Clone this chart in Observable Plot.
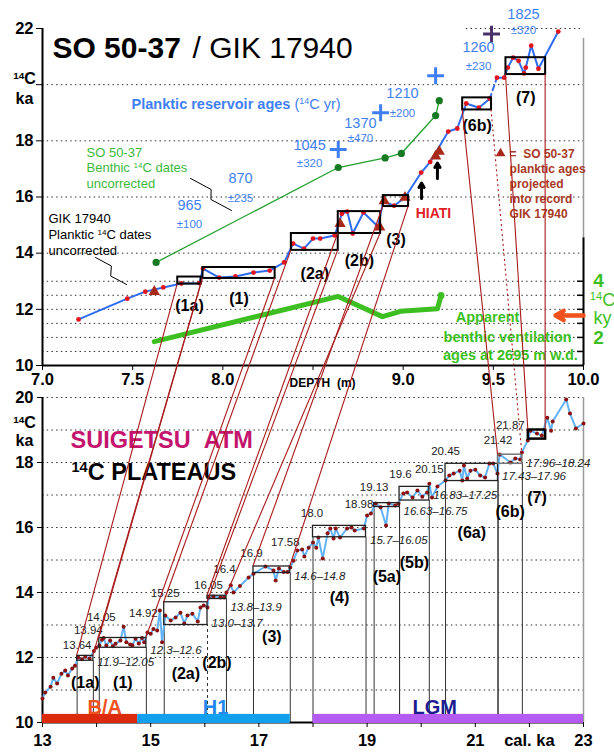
<!DOCTYPE html>
<html>
<head>
<meta charset="utf-8">
<script src="https://cdn.jsdelivr.net/npm/d3@7"></script>
<script src="https://cdn.jsdelivr.net/npm/@observablehq/plot@0.6"></script>
<style>
  body { margin: 0; background: #fff; }
  #fig { position: relative; width: 614px; height: 754px; overflow: hidden; }
  #fig svg { position: absolute; left: 0; }
</style>
</head>
<body>
<div id="fig"></div>
<script>
// ---------------- Core SO 50-37 / GIK 17940 (depth in m, 14C ka) ----------------
// GIK 17940 planktic 14C dates, uncorrected
const plankticDepth = [7.20, 7.47, 7.57, 7.67, 7.77, 7.87, 7.89, 7.98, 8.07, 8.17, 8.26, 8.34, 8.39, 8.45, 8.50, 8.54, 8.62, 8.66, 8.69, 8.72, 8.78, 8.86, 8.89, 8.95, 9.01, 9.10, 9.15, 9.25, 9.30, 9.35, 9.42, 9.48, 9.52, 9.56, 9.58, 9.61, 9.64, 9.67, 9.68, 9.71, 9.75, 9.86];
const plankticAge   = [11.64, 12.38, 12.63, 12.78, 12.92, 12.93, 13.45, 13.13, 13.17, 13.31, 13.38, 13.67, 14.34, 14.16, 14.52, 14.52, 14.63, 15.40, 15.48, 14.70, 15.45, 14.95, 15.84, 15.69, 15.98, 16.87, 17.25, 18.33, 18.44, 19.33, 19.18, 19.50, 20.25, 20.25, 20.61, 20.96, 20.85, 20.40, 20.61, 21.39, 20.57, 21.89];
// SO 50-37 planktic ages projected into record GIK 17940
const projectedDepth = [7.62, 8.65, 8.87, 8.895, 9.01, 9.18, 9.20];
const projectedAge   = [12.63, 15.05, 14.92, 15.86, 15.98, 17.45, 17.62];
// SO 50-37 benthic 14C dates, uncorrected
const benthicDepth = [7.63, 8.64, 8.90, 8.99, 9.18, 9.20];
const benthicAge   = [13.67, 17.05, 17.39, 17.55, 18.90, 19.43];
// Apparent benthic ventilation ages (14C ky, right-hand axis)
const ventDepth = [7.62, 8.64, 8.885, 8.985, 9.19, 9.21];
const ventAge   = [1.85, 3.46, 2.74, 2.93, 3.02, 3.49];
// Planktic reservoir ages (14C yr) with their uncertainties
const reservoirAge = [965, 870, 1045, 1370, 1210, 1260, 1825];
const reservoirErr = [100, 235, 320, 470, 200, 230, 320];
// Reservoir-age sample markers
const markerDepth = [8.64, 8.875, 9.18, 9.49];
const markerAge   = [17.69, 19.00, 20.32, 21.80];
// Plateau boxes in the core (depth range, 14C range)
const coreBoxId    = ["1a", "1", "2a", "2b", "3", "6b", "7"];
const coreDepthTop = [7.75, 7.89, 8.38, 8.64, 8.89, 9.33, 9.57];
const coreDepthEnd = [7.88, 8.29, 8.64, 8.875, 9.03, 9.49, 9.79];
const coreAgeLow   = [12.90, 13.10, 14.10, 14.70, 15.66, 19.10, 20.36];
const coreAgeHigh  = [13.15, 13.49, 14.70, 15.48, 16.05, 19.53, 20.96];

// ---------------- Lake Suigetsu atmospheric 14C (cal ka, 14C ka) ----------------
const suigetsuCal = [13.00, 13.05, 13.15, 13.20, 13.27, 13.35, 13.42, 13.47, 13.55, 13.60, 13.66, 13.73, 13.79, 13.87, 13.95, 13.99, 14.05, 14.10, 14.13, 14.18, 14.25, 14.30, 14.35, 14.44, 14.50, 14.55, 14.62, 14.66, 14.72, 14.78, 14.84, 14.88, 14.94, 15.00, 15.05, 15.12, 15.17, 15.21, 15.27, 15.37, 15.46, 15.55, 15.62, 15.68, 15.77, 15.87, 15.92, 15.98, 16.05, 16.07, 16.16, 16.29, 16.36, 16.40, 16.48, 16.53, 16.65, 16.81, 16.90, 17.12, 17.27, 17.31, 17.37, 17.46, 17.53, 17.58, 17.64, 17.71, 17.80, 17.84, 17.92, 18.00, 18.06, 18.10, 18.18, 18.27, 18.32, 18.38, 18.42, 18.50, 18.63, 18.71, 18.77, 18.94, 19.00, 19.07, 19.16, 19.25, 19.35, 19.40, 19.52, 19.58, 19.67, 19.74, 19.84, 19.93, 20.02, 20.11, 20.15, 20.20, 20.30, 20.45, 20.52, 20.60, 20.71, 20.76, 20.79, 20.85, 20.91, 21.00, 21.09, 21.18, 21.26, 21.33, 21.41, 21.45, 21.65, 21.74, 21.83, 21.86, 21.97, 22.02, 22.14, 22.23, 22.33, 22.40, 22.43, 22.68, 22.75, 22.86, 23.00];
const suigetsuC14 = [10.74, 10.92, 11.10, 11.38, 11.20, 11.50, 11.60, 11.45, 11.66, 11.75, 12.00, 11.95, 12.02, 11.97, 12.20, 12.30, 12.37, 12.55, 12.60, 12.37, 12.52, 12.35, 12.42, 12.52, 12.95, 12.47, 12.40, 12.38, 12.58, 12.43, 12.60, 12.47, 12.77, 12.73, 12.88, 12.83, 13.45, 12.47, 13.29, 13.14, 13.23, 13.38, 13.05, 13.29, 13.35, 13.11, 13.54, 13.60, 13.54, 13.85, 13.88, 13.85, 13.85, 14.00, 14.22, 14.00, 14.20, 14.46, 14.58, 14.80, 14.68, 14.37, 14.74, 14.63, 14.63, 14.77, 14.98, 15.29, 15.32, 15.11, 15.38, 15.54, 15.38, 15.69, 15.05, 15.82, 15.97, 15.66, 15.97, 15.69, 15.97, 16.00, 15.91, 15.97, 16.37, 16.43, 16.74, 16.62, 16.06, 16.74, 16.68, 16.74, 17.05, 17.08, 16.92, 17.14, 16.95, 17.08, 17.35, 16.92, 17.26, 17.45, 17.60, 17.66, 17.75, 17.45, 17.91, 17.51, 17.75, 17.78, 17.60, 17.54, 17.97, 17.97, 17.66, 18.25, 18.00, 18.12, 18.09, 18.31, 18.68, 18.98, 18.89, 18.83, 19.38, 18.98, 19.26, 19.94, 19.51, 19.05, 19.20];
// 14C plateaus (cal ka range, 14C ka range)
const plateauId       = ["1a", "1", "2a", "2b", "3", "4", "5a", "5b", "6a", "6b", "7"];
const plateauCalStart = [13.64, 14.05, 15.25, 16.05, 16.90, 18.00, 19.13, 19.60, 20.45, 21.42, 21.98];
const plateauCalEnd   = [13.94, 14.92, 16.05, 16.40, 17.58, 18.98, 19.60, 20.15, 21.42, 21.87, 22.30];
const plateauC14Low   = [11.90, 12.30, 13.00, 13.80, 14.60, 15.70, 16.63, 16.83, 17.43, 17.96, 18.72];
const plateauC14High  = [12.05, 12.60, 13.70, 13.90, 14.80, 16.05, 16.75, 17.25, 17.96, 18.24, 19.00];
// Climate periods
const periodName  = ["B/A", "H1", "LGM"];
const periodStart = [13.00, 14.76, 18.00];
const periodEnd   = [14.76, 17.58, 23.00];

// Axis ticks
const ageTicks   = [10, 12, 14, 16, 18, 20, 22];
const depthTicks = [7, 7.5, 8, 8.5, 9, 9.5, 10];
const ventTicks  = [1.5, 2, 2.5, 3, 3.5, 4];
const ventLabels = [2, 4];
const c14Ticks   = [10, 12, 14, 16, 18, 20];
const calTicks   = [13, 14, 15, 16, 17, 18, 19, 20, 21, 22, 23];
const topGrid    = [10.5, 11, 11.5, 12, 12.5, 13, 14, 16, 18, 20];
const bottomGrid = [11, 12, 13, 14, 15, 16, 17, 18, 19, 20];

// ---------------- tables ----------------
const zip = (keys, ...cols) => cols[0].map((_, i) => Object.fromEntries(keys.map((k, j) => [k, cols[j][i]])));
const planktic  = zip(["depth", "age"], plankticDepth, plankticAge);
const projected = zip(["depth", "age"], projectedDepth, projectedAge);
const benthic   = zip(["depth", "age"], benthicDepth, benthicAge);
const vent      = zip(["depth", "ky"], ventDepth, ventAge);
const markers   = zip(["depth", "age"], markerDepth, markerAge);
const coreBoxes = zip(["id", "d0", "d1", "a0", "a1"], coreBoxId, coreDepthTop, coreDepthEnd, coreAgeLow, coreAgeHigh);
const suigetsu  = zip(["cal", "c14"], suigetsuCal, suigetsuC14);
const plateaus  = zip(["id", "c0", "c1", "r0", "r1"], plateauId, plateauCalStart, plateauCalEnd, plateauC14Low, plateauC14High);
const periods   = zip(["name", "start", "end"], periodName, periodStart, periodEnd);

const FONT = "'Liberation Sans', Arial, Helvetica, sans-serif";
const VENT_OFFSET = 9;           // right-hand ventilation axis sits 9 ka below the left axis
const BOTTOM_TOP = 389;          // vertical offset of the lower panel
const PX_PER_CAL = 54.1, PX_PER_C14 = 32.5;   // lower panel pixel density, for label nudges
const BLUE = "#3f7ff2", GREEN = "#3dbf22", DARKRED = "#a81a1a";
const fmt = v => (v % 1 === 0 ? v.toFixed(1) : String(v));
const note = (text, x, y, o = {}) => Plot.text([text], {x, y, text: d => d, ...o});

// ---------------- upper panel: core depth ----------------
const reservoirAt = {   // label anchor (depth, 14C ka) and gap to the ± line (px)
  depth: [7.815, 8.098, 8.481, 8.763, 8.996, 9.418, 9.667],
  age:   [15.70, 16.66, 17.83, 18.62, 19.69, 21.32, 22.50],
  gap:   [19, 20, 18, 15, 20, 19, 16]
};
const reservoirLabels = reservoirAge.map((v, i) => ({v, e: reservoirErr[i], x: reservoirAt.depth[i], y: reservoirAt.age[i], gap: reservoirAt.gap[i]}));
const coreLabelY = [12.14, 12.39, 13.28, 13.74, 14.49, 18.55, 19.54];

const topPlot = Plot.plot({
  width: 614, height: 392,
  marginLeft: 42, marginRight: 31, marginTop: 28, marginBottom: 27,
  style: {fontFamily: FONT, fontSize: "12px", color: "#000", background: "transparent", overflow: "visible"},
  x: {domain: [7, 10]},
  y: {domain: [10, 22]},
  marks: [
    Plot.ruleY(topGrid, {stroke: "#333", strokeDasharray: "1.5,3.2"}),
    Plot.ruleY([22], {x1: 9.35, x2: 10, stroke: "#333", strokeDasharray: "1.5,3.2"}),
    Plot.ruleX([7], {y1: 10, y2: 22, strokeWidth: 2}),
    Plot.ruleY([10], {strokeWidth: 2}),
    Plot.ruleX([10], {y1: 10, y2: 14.55, strokeWidth: 2}),
    Plot.ruleX([10], {y1: 14.55, y2: 21.65, stroke: "#9a9a9a", strokeWidth: 1.5}),
    Plot.axisY({ticks: ageTicks, tickFormat: d => (d === 20 ? "" : d), tickSize: 6, tickPadding: 3, fontSize: 16.5, fontWeight: "bold", label: null}),
    Plot.axisX({ticks: depthTicks, tickFormat: d => (d === 8.5 ? "" : d.toFixed(1)), tickSize: 5, tickPadding: 3, fontSize: 16.5, fontWeight: "bold", label: null}),
    note("DEPTH\u00a0\u00a0(m)", 8.553, 10, {dy: 18, fontSize: 12, fontWeight: "bold"}),
    note("¹⁴C\nka", 6.9, 19.9, {fontSize: 16, fontWeight: "bold", lineHeight: 1.25}),
    // right-hand ventilation axis
    Plot.ruleY(ventTicks, {y: d => d + VENT_OFFSET, x1: 9.967, x2: 10, strokeWidth: 1.5}),
    Plot.text(ventLabels, {x: 10, y: d => d + VENT_OFFSET, text: d => String(d), dx: 15, fontSize: 19, fontWeight: "bold", fill: GREEN}),
    note("¹⁴C\nky", 10.105, 11.99, {fontSize: 18, fill: GREEN, lineHeight: 1.0}),
    // ventilation ages
    Plot.line(vent, {x: "depth", y: d => d.ky + VENT_OFFSET, stroke: GREEN, strokeWidth: 5, strokeLinejoin: "round", strokeLinecap: "round"}),
    Plot.dot(vent.slice(-1), {x: "depth", y: d => d.ky + VENT_OFFSET, r: 3.5, fill: GREEN}),
    // benthic dates
    Plot.line(benthic, {x: "depth", y: "age", stroke: "#22a02e", strokeWidth: 1.3}),
    Plot.dot(benthic, {x: "depth", y: "age", r: 3.6, fill: "#157a22"}),
    // planktic record (dashed across the gap)
    Plot.line(planktic.filter(d => d.depth <= 9.48), {x: "depth", y: "age", stroke: "#2f6cf2", strokeWidth: 2}),
    Plot.line(planktic.filter(d => d.depth >= 9.48 && d.depth <= 9.52), {x: "depth", y: "age", stroke: "#2f6cf2", strokeWidth: 2, strokeDasharray: "5,4"}),
    Plot.line(planktic.filter(d => d.depth >= 9.52), {x: "depth", y: "age", stroke: "#2f6cf2", strokeWidth: 2}),
    Plot.dot(planktic, {x: "depth", y: "age", r: 2.4, fill: "#e3141c"}),
    Plot.dot(projected, {x: "depth", y: "age", symbol: "triangle", r: 4.2, fill: "#a8281a"}),
    // plateau boxes
    Plot.rect(coreBoxes, {x1: "d0", x2: "d1", y1: "a0", y2: "a1", fill: "none", stroke: "#000", strokeWidth: 2}),
    Plot.text(coreBoxes, {x: d => (d.d0 + d.d1) / 2, y: (d, i) => coreLabelY[i], text: d => `(${d.id})`, fontSize: 16, fontWeight: "bold"}),
    // reservoir ages
    Plot.dot(markers.slice(0, 3), {x: "depth", y: "age", symbol: "plus", r: 5.5, stroke: BLUE, strokeWidth: 3}),
    Plot.dot(markers.slice(3), {x: "depth", y: "age", symbol: "plus", r: 5.5, stroke: "#4a3068", strokeWidth: 3}),
    Plot.text(reservoirLabels, {x: "x", y: "y", text: d => String(d.v), fontSize: 14.5, fill: BLUE}),
    ...reservoirLabels.map(d => note(`±${d.e}`, d.x, d.y, {dy: d.gap, fontSize: 11.5, fill: BLUE})),
    note("Planktic reservoir ages", 7.494, 19.295, {textAnchor: "start", fontSize: 14.5, fontWeight: "bold", fill: BLUE}),
    note("(¹⁴C yr)", 8.397, 19.295, {textAnchor: "start", fontSize: 14.5, fill: BLUE}),
    // titles and notes
    note("SO 50-37", 7.055, 21.29, {textAnchor: "start", fontSize: 30, fontWeight: "bold"}),
    note("/ GIK 17940", 7.832, 21.29, {textAnchor: "start", fontSize: 30}),
    note("SO 50-37\nBenthic ¹⁴C dates\nuncorrected", 7.244, 17.05, {textAnchor: "start", fontSize: 13, fill: "#3cb93c", lineHeight: 1.17}),
    note("GIK 17940\nPlanktic ¹⁴C dates\nuncorrected", 7.033, 14.70, {textAnchor: "start", fontSize: 13, lineHeight: 1.23}),
    Plot.line([[7.821, 16.66], [7.935, 16.268], [7.934, 15.912], [8.048, 15.52]], {x: d => d[0], y: d => d[1], stroke: "#000", strokeWidth: 1}),
    Plot.line([[7.294, 13.846], [7.382, 13.543], [7.378, 13.187], [7.466, 12.885]], {x: d => d[0], y: d => d[1], stroke: "#000", strokeWidth: 1}),
    Plot.dot([0], {x: 9.540, y: 17.55, symbol: "triangle", r: 3.6, fill: "#a8281a"}),
    note("=\u00a0\u00a0SO 50-37\nplanktic ages\nprojected\ninto record\nGIK 17940", 9.590, 16.48, {textAnchor: "start", fontSize: 12, fontWeight: "bold", fill: "#a83a24", lineHeight: 1.25}),
    note("HIATI", 9.168, 15.41, {fontSize: 14, fontWeight: "bold", fill: "#e01e26"}),
    Plot.arrow([[9.102, 15.95, 16.50], [9.19, 16.66, 17.21]], {x1: d => d[0], x2: d => d[0], y1: d => d[1], y2: d => d[2], strokeWidth: 3, headLength: 8, stroke: "#000"}),
    Plot.arrow([0], {x1: 10, x2: 9.845, y1: 11.78, y2: 11.78, stroke: "#f0521e", strokeWidth: 4.5, headLength: 10}),
    note("Apparent", 9.468, 11.71, {fontSize: 14.5, fontWeight: "bold", fill: GREEN}),
    note("benthic ventilation", 9.579, 11.0, {fontSize: 14.5, fontWeight: "bold", fill: GREEN}),
    note("ages at 2695 m w.d.", 9.595, 10.36, {fontSize: 14.5, fontWeight: "bold", fill: GREEN})
  ]
});

// ---------------- lower panel: Suigetsu ----------------
const plateauLabelY = [11.23, 11.23, 11.51, 11.85, 12.65, 13.82, 14.49, 14.92, 15.85, 16.49, 16.92];
const rangeLabelDy  = [2, 3, -2, 8, 3, 3, 4, -5, -5, 0];          // px below each plateau floor
const cornerLabelY  = [12.37, 12.83, 13.23, 13.35, 13.97, 14.22, 14.71, 15.20, 15.54, 16.43, 16.71, 17.23, 17.63, 17.78, 18.34, 18.68, 19.14];
const cornerLabelDx = [0, -5, 2, -3, 1, 1, -2, -2, -5, -1, -7, 0, 1, 0, 0, 0, -12];
const periodLabelX  = [14.15, 16.2, 20.25];
const periodFill    = ["#dc2a0c", "#12a0ee", "#b45cf2"];
const periodText    = ["#ef521e", "#2288ee", "#1c1c90"];

const walled = plateaus.slice(0, -1);
const edges = walled.flatMap(p => [
  {x: p.c0, bottom: p.r0, dashed: false, skip: p.id === "2b"},
  {x: p.c1, bottom: p.r0, dashed: p.id === "2a", skip: false}
]).filter(e => !e.skip);
const cornerValues = Array.from(new Set(walled.flatMap(p => [p.c0, p.c1])));
const corners = cornerValues.map((v, i) => ({v, y: cornerLabelY[i], dx: cornerLabelDx[i]}));

const bottomPlot = Plot.plot({
  width: 614, height: 365,
  marginLeft: 42, marginRight: 31, marginTop: 8, marginBottom: 32,
  style: {fontFamily: FONT, fontSize: "12px", color: "#000", background: "transparent", overflow: "visible"},
  x: {domain: [13, 23]},
  y: {domain: [10, 20]},
  marks: [
    Plot.ruleY(bottomGrid, {stroke: "#333", strokeDasharray: "1.5,3.2"}),
    Plot.ruleX([23], {stroke: "#9a9a9a", strokeWidth: 1.5}),
    Plot.ruleX([13], {strokeWidth: 2}),
    Plot.ruleY([10], {strokeWidth: 2}),
    Plot.axisY({ticks: c14Ticks, tickSize: 5, tickPadding: 4, fontSize: 16.5, fontWeight: "bold", label: null}),
    Plot.axisX({ticks: calTicks, tickFormat: d => (d === 22 ? "cal. ka" : d % 2 ? d : ""), tickSize: 5, tickPadding: 7, fontSize: 16.5, fontWeight: "bold", label: null}),
    note("¹⁴C\nka", 12.667, 18.95, {fontSize: 16, fontWeight: "bold", lineHeight: 1.12}),
    // plateau walls
    Plot.ruleX(edges.filter(e => !e.dashed), {x: "x", y1: 10, y2: "bottom", stroke: "#333", strokeWidth: 1}),
    Plot.ruleX(edges.filter(e => e.dashed), {x: "x", y1: 10, y2: "bottom", stroke: "#333", strokeWidth: 1, strokeDasharray: "3,3"}),
    // Suigetsu record
    Plot.line(suigetsu, {x: "cal", y: "c14", stroke: "#62b2f7", strokeWidth: 2}),
    Plot.dot(suigetsu, {x: "cal", y: "c14", r: 2, fill: "#8b1010"}),
    // plateau boxes
    Plot.rect(plateaus.filter(p => p.id !== "6b" && p.id !== "7"), {x1: "c0", x2: "c1", y1: "r0", y2: "r1", fill: "none", stroke: "#222", strokeWidth: 1.3}),
    Plot.rect(plateaus.filter(p => p.id === "6b"), {x1: "c0", x2: "c1", y1: "r0", y2: "r1", fill: "none", stroke: "#777", strokeWidth: 1.5}),
    Plot.rect(plateaus.filter(p => p.id === "7"), {x1: "c0", x2: "c1", y1: "r0", y2: "r1", fill: "none", stroke: "#000", strokeWidth: 2.5}),
    Plot.text(plateaus, {x: d => (d.c0 + d.c1) / 2, y: (d, i) => plateauLabelY[i], text: d => `(${d.id})`, fontSize: 16, fontWeight: "bold"}),
    Plot.text(walled, {x: "c1", y: (d, i) => d.r0 - rangeLabelDy[i] / PX_PER_C14, text: d => `${fmt(d.r0)}–${fmt(d.r1)}`, textAnchor: "start", dx: 4, fontSize: 11.5, fontStyle: "italic", fill: "#222"}),
    Plot.text(corners, {x: d => d.v + d.dx / PX_PER_CAL, y: "y", text: d => fmt(d.v), fontSize: 11.5, fill: "#222"}),
    // periods
    Plot.rect(periods, {x1: "start", x2: "end", y1: 9.97, y2: 10.25, fill: (d, i) => periodFill[i]}),
    Plot.text(periods, {x: (d, i) => periodLabelX[i], y: 10.46, text: "name", fontSize: 20, fontWeight: "bold", fill: (d, i) => periodText[i]}),
    note("SUIGETSU\u00a0\u00a0ATM", 13.518, 18.68, {textAnchor: "start", fontSize: 23.5, fontWeight: "bold", fill: "#c4146e"}),
    note("¹⁴C PLATEAUS", 13.536, 17.69, {textAnchor: "start", fontSize: 23.5, fontWeight: "bold"})
  ]
});

const fig = document.getElementById("fig");
topPlot.style.top = "0px";
bottomPlot.style.top = BOTTOM_TOP + "px";
fig.appendChild(topPlot);
fig.appendChild(bottomPlot);

// ---------------- tie lines from core boxes to Suigetsu plateaus ----------------
function scaleFn(plot, name) {
  const s = plot.scale(name);
  if (s && typeof s.apply === "function") return v => s.apply(v);
  return d3.scaleLinear(s.domain, s.range);
}
const tx = scaleFn(topPlot, "x"), ty = scaleFn(topPlot, "y");
const bx = scaleFn(bottomPlot, "x"), by = scaleFn(bottomPlot, "y");
const ties = coreBoxes.flatMap(c => {
  const p = plateaus.find(q => q.id === c.id);
  return [
    {x1: tx(c.d0), y1: ty(c.a0), x2: bx(p.c0), y2: by(p.r1) + BOTTOM_TOP, dotted: false},
    {x1: tx(c.d1), y1: ty(c.a0), x2: bx(p.c1), y2: by(p.r1) + BOTTOM_TOP, dotted: c.id === "6b"}
  ];
});
const overlay = d3.select(fig).append("svg")
  .attr("width", 614).attr("height", 754)
  .style("top", "0px").style("pointer-events", "none");
overlay.selectAll("line").data(ties).join("line")
  .attr("x1", d => d.x1).attr("y1", d => d.y1)
  .attr("x2", d => d.x2).attr("y2", d => d.y2)
  .attr("stroke", DARKRED).attr("stroke-width", 1.1)
  .attr("stroke-dasharray", d => (d.dotted ? "2,3" : null));

// raise the isotope mass number in "¹⁴C" labels
function raiseIsotope(root) {
  const ns = "http://www.w3.org/2000/svg";
  root.querySelectorAll("text, tspan").forEach(el => {
    Array.from(el.childNodes).forEach(node => {
      if (node.nodeType !== 3 || !node.nodeValue.includes("¹⁴")) return;
      const parts = node.nodeValue.split("¹⁴");
      const frag = document.createDocumentFragment();
      parts.forEach((p, i) => {
        if (i > 0) {
          const s = document.createElementNS(ns, "tspan");
          s.setAttribute("font-size", "62%");
          s.setAttribute("baseline-shift", "super");
          s.textContent = "14";
          frag.appendChild(s);
        }
        if (p) frag.appendChild(document.createTextNode(p));
      });
      el.replaceChild(frag, node);
    });
  });
}
raiseIsotope(topPlot);
raiseIsotope(bottomPlot);
</script>
</body>
</html>
